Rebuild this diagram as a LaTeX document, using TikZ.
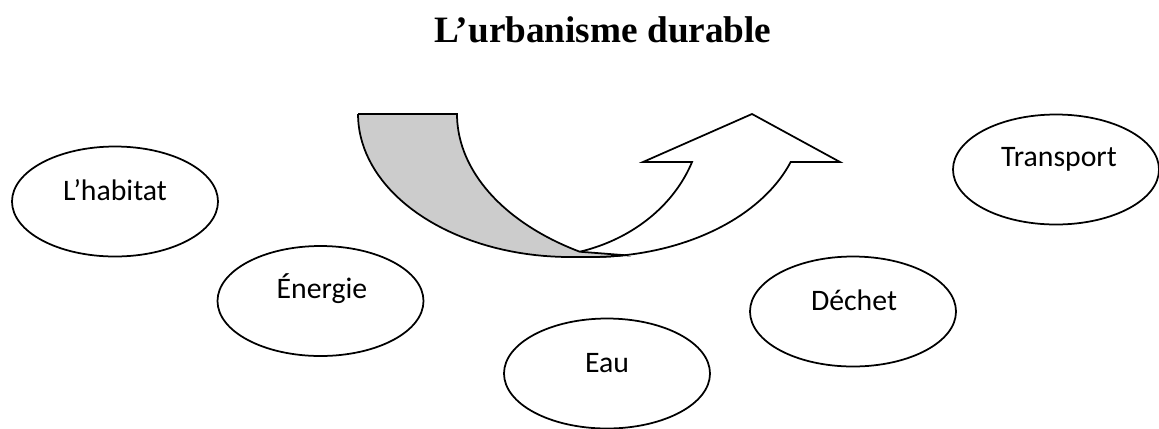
\documentclass[tikz,border=0pt]{standalone}
\usepackage{fontspec}
\setmainfont{Liberation Serif}
\newfontfamily\calib{Carlito}
\usetikzlibrary{shapes.geometric}
\begin{document}
\begin{tikzpicture}[x=0.4pt,y=-0.4pt,
  ell/.style={draw,ellipse,line width=0.7pt,minimum width=82.4pt,minimum height=44pt,inner sep=0pt},
  lbl/.style={font=\calib\fontsize{11.9}{14}\selectfont,anchor=base,inner sep=0pt},
  arrowpart/.style={draw,line width=0.7pt,line join=miter}]
\useasboundingbox (0,0) rectangle (1159,428);
\node[font=\bfseries\fontsize{14.9}{18}\selectfont,anchor=base,inner sep=0pt] (title) at (603,42) {L’urbanisme durable};
% curved arrow: front (white) part
\filldraw[arrowpart,fill=white] (580,251.7)
  -- plot[domain=74.4:19.6,samples=40] ({535+166.7*cos(\x)},{114+143*sin(\x)})
  -- (643,162) -- (752,114) -- (840,162) -- (791,162)
  -- plot[domain=19.6:90,samples=40] ({591+212*cos(\x)},{114+143*sin(\x)})
  -- cycle;
% back (grey) part
\filldraw[arrowpart,fill=black!20] (358,114) -- (457,114)
  -- plot[domain=0:59.4,samples=40] ({707-250*cos(\x)},{114+160*sin(\x)})
  -- (625,255.2)
  -- plot[domain=80.8:90,samples=10] ({591+212*cos(\x)},{114+143*sin(\x)})
  -- plot[domain=90:0,samples=40] ({570-212*cos(\x)},{114+143*sin(\x)})
  -- cycle;
% ellipses
\node[ell] (hab) at (115,201.5) {};
\node[lbl] (habt) at (115,200) {L’habitat};
\node[ell] (ene) at (320.5,301) {};
\node[lbl] (enet) at (322,298) {Énergie};
\node[ell] (eau) at (607,373.5) {};
\node[lbl] (eaut) at (607,372) {Eau};
\node[ell] (dec) at (853,311.5) {};
\node[lbl] (dect) at (854,310) {Déchet};
\node[ell] (tra) at (1056,169.5) {};
\node[lbl] (trat) at (1059,166) {Transport};
\end{tikzpicture}
\end{document}
